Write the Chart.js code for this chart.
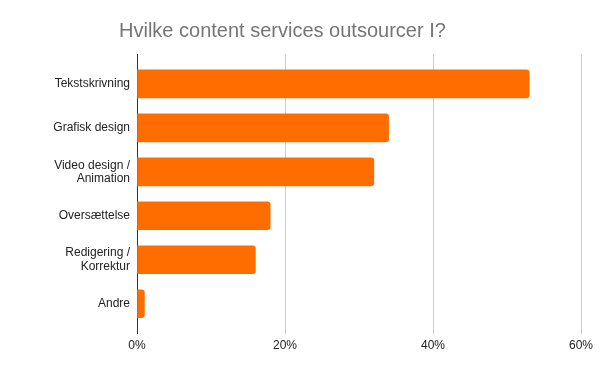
<!DOCTYPE html>
<html>
<head>
<meta charset="utf-8">
<script src="https://cdn.jsdelivr.net/npm/chart.js@4/dist/chart.umd.min.js"></script>
<style>
  html, body { margin: 0; padding: 0; background: #fff; }
  #wrap { width: 600px; height: 371px; position: relative; }
</style>
</head>
<body>
<div id="wrap"><canvas id="c"></canvas></div>
<script>
const titleText = 'Hvilke content services outsourcer I?';
const categories = [
  'Tekstskrivning',
  'Grafisk design',
  ['Video design /', 'Animation'],
  'Oversættelse',
  ['Redigering /', 'Korrektur'],
  'Andre'
];
const values = [53, 34, 32, 18, 16, 1];
const xTicks = [0, 20, 40, 60];

const points = values.map((v, i) => ({ x: v, y: i }));

const titleShift = {
  id: 'titleShift',
  afterLayout(chart) {
    if (chart.titleBlock) {
      const w = chart.titleBlock.right - chart.titleBlock.left;
      chart.titleBlock.left = 119;
      chart.titleBlock.right = 119 + w;
    }
  }
};

new Chart(document.getElementById('c'), {
  type: 'bar',
  data: {
    datasets: [{
      data: points,
      backgroundColor: '#ff6d01',
      borderRadius: 3,
      borderSkipped: 'start',
      barThickness: 28
    }]
  },
  options: {
    indexAxis: 'y',
    responsive: true,
    maintainAspectRatio: false,
    animation: false,
    layout: { padding: { left: 0, right: 19, top: 0, bottom: 13 } },
    plugins: {
      legend: { display: false },
      tooltip: { enabled: false },
      title: {
        display: true,
        text: titleText,
        align: 'start',
        color: '#757575',
        font: { family: '"Liberation Sans", Arial, sans-serif', size: 20, weight: 'normal', lineHeight: 1.2 },
        padding: { top: 19, bottom: 11 }
      }
    },
    scales: {
      x: {
        type: 'linear',
        min: xTicks[0],
        max: xTicks[xTicks.length - 1],
        afterBuildTicks(scale) { scale.ticks = xTicks.map(v => ({ value: v })); },
        ticks: {
          callback: v => v + '%',
          color: '#222',
          padding: 5,
          maxRotation: 0,
          font: { family: '"Liberation Sans", Arial, sans-serif', size: 12 }
        },
        grid: {
          color: ctx => (ctx.tick && ctx.tick.value === 0) ? '#333333' : '#cccccc',
          lineWidth: 1,
          drawTicks: false
        },
        border: { display: false }
      },
      y: {
        type: 'linear',
        reverse: true,
        offset: false,
        min: -0.68,
        max: 5.68,
        afterBuildTicks(scale) { scale.ticks = categories.map((c, i) => ({ value: i })); },
        afterFit(scale) { scale.width = 137; },
        ticks: {
          callback: v => categories[v],
          color: '#222',
          padding: 7,
          autoSkip: false,
          font: { family: '"Liberation Sans", Arial, sans-serif', size: 12, lineHeight: 1.1 }
        },
        grid: { display: false, drawTicks: false, offset: false },
        border: { display: false }
      }
    }
  },
  plugins: [titleShift]
});
</script>
</body>
</html>
